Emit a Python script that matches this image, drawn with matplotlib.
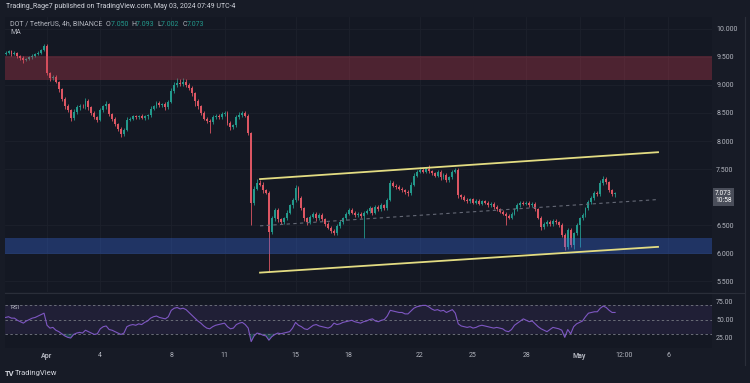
import matplotlib.pyplot as plt
import matplotlib.transforms as mtransforms
import numpy as np

# Datos (DOT/USDT, velas de 4h)
# ========================================
first_open = 9.55

# Cierres, una línea por día (Mar 29 16:00 ... May 3 00:00)
closes = [
    9.58, 9.60,
    9.55, 9.57, 9.52, 9.48, 9.44, 9.47,
    9.50, 9.52, 9.55, 9.58, 9.62, 9.70,
    9.21, 9.12, 9.14, 9.06, 8.92, 8.75,   # Apr 1
    8.62, 8.55, 8.41, 8.52, 8.60, 8.63,
    8.62, 8.72, 8.60, 8.50, 8.42, 8.38,
    8.55, 8.62, 8.66, 8.48, 8.40, 8.30,   # Apr 4
    8.22, 8.12, 8.20, 8.38, 8.40, 8.44,
    8.42, 8.45, 8.41, 8.44, 8.46, 8.58,
    8.62, 8.68, 8.64, 8.66, 8.60, 8.70,
    8.90, 9.00, 9.04, 9.02, 9.05, 9.00,   # Apr 8
    8.95, 8.85, 8.72, 8.62, 8.50, 8.40,
    8.36, 8.34, 8.42, 8.45, 8.43, 8.48,
    8.50, 8.32, 8.25, 8.28, 8.42, 8.46,   # Apr 11
    8.50, 8.45, 8.14, 6.89, 7.15, 7.25,
    7.22, 7.12, 7.08, 6.38, 6.62, 6.77,
    6.60, 6.55, 6.62, 6.72, 6.85, 6.95,
    7.16, 6.98, 6.80, 6.62, 6.55, 6.65,   # Apr 15
    6.70, 6.62, 6.68, 6.60, 6.52, 6.45,
    6.40, 6.36, 6.48, 6.55, 6.62, 6.70,
    6.77, 6.72, 6.68, 6.70, 6.66, 6.72,   # Apr 18
    6.75, 6.80, 6.72, 6.82, 6.78, 6.85,
    6.80, 6.95, 7.25, 7.20, 7.18, 7.15,
    7.12, 7.09, 7.07, 7.22, 7.38, 7.45,
    7.48, 7.45, 7.50, 7.46, 7.42, 7.38,   # Apr 22
    7.45, 7.35, 7.40, 7.30, 7.35, 7.45,
    7.48, 7.03, 7.00, 6.95, 6.92, 6.96,
    6.90, 6.93, 6.88, 6.92, 6.90, 6.86,   # Apr 25
    6.88, 6.82, 6.78, 6.74, 6.70, 6.66,
    6.63, 6.70, 6.78, 6.86, 6.90, 6.88,
    6.90, 6.86, 6.88, 6.78, 6.63, 6.46,   # Apr 28
    6.52, 6.56, 6.52, 6.58, 6.55, 6.50,
    6.32, 6.10, 6.41, 6.14, 6.35, 6.50,
    6.62, 6.68, 6.80, 6.91, 6.98, 7.07,   # May 1
    7.05, 7.25, 7.32, 7.26, 7.12, 7.05,
    7.073,
]

# Mechas superior e inferior (centésimas)
wick_up = [
    3, 2,
    2, 3, 2, 2, 3, 2,
    2, 3, 2, 3, 3, 4,
    3, 3, 4, 3, 2, 3,
    3, 4, 2, 5, 4, 3,
    3, 5, 3, 2, 3, 2,
    4, 3, 6, 2, 2, 3,
    2, 3, 3, 4, 3, 2,
    3, 2, 4, 3, 3, 4,
    3, 4, 3, 2, 3, 4,
    4, 6, 8, 7, 7, 5,
    3, 4, 3, 3, 2, 3,
    3, 3, 5, 3, 3, 4,
    4, 3, 3, 3, 4, 5,
    4, 3, 3, 2, 5, 7,
    5, 4, 3, 2, 4, 4,
    4, 3, 3, 4, 3, 4,
    5, 4, 3, 3, 3, 3,
    3, 3, 3, 3, 3, 3,
    3, 3, 3, 4, 3, 3,
    4, 3, 3, 3, 3, 3,
    3, 4, 3, 4, 3, 4,
    3, 4, 5, 3, 3, 3,
    3, 3, 3, 4, 4, 4,
    5, 3, 4, 7, 3, 3,
    3, 3, 3, 3, 3, 3,
    4, 3, 3, 3, 3, 3,
    3, 3, 3, 3, 3, 3,
    3, 3, 3, 3, 3, 3,
    3, 3, 3, 4, 3, 3,
    3, 3, 3, 3, 3, 3,
    4, 3, 3, 3, 3, 3,
    3, 3, 3, 3, 3, 3,
    3, 3, 3, 3, 3, 3,
    3, 5, 6, 3, 3, 3,
    2,
]
wick_dn = [
    2, 3,
    3, 2, 3, 3, 4, 2,
    2, 3, 2, 2, 3, 2,
    4, 5, 3, 3, 4, 3,
    4, 3, 6, 3, 3, 4,
    3, 4, 4, 3, 3, 4,
    3, 3, 4, 3, 4, 3,
    4, 5, 3, 3, 3, 3,
    3, 3, 2, 3, 4, 3,
    3, 3, 3, 4, 5, 3,
    3, 4, 3, 4, 3, 3,
    4, 5, 10, 4, 4, 3,
    4, 20, 3, 3, 3, 3,
    3, 3, 5, 3, 3, 3,
    3, 3, 4, 39, 3, 3,
    3, 4, 3, 72, 4, 5,
    5, 4, 3, 3, 3, 4,
    4, 3, 4, 4, 5, 3,
    3, 4, 3, 3, 4, 3,
    4, 3, 3, 3, 3, 3,
    3, 3, 4, 3, 3, 39,
    3, 3, 4, 3, 3, 3,
    3, 3, 3, 3, 4, 3,
    3, 3, 5, 3, 3, 3,
    3, 3, 3, 3, 3, 3,
    3, 4, 3, 4, 3, 3,
    3, 4, 3, 3, 3, 3,
    3, 3, 3, 3, 3, 3,
    3, 3, 3, 3, 3, 16,
    3, 3, 3, 3, 3, 3,
    3, 3, 3, 3, 3, 5,
    3, 3, 3, 3, 3, 3,
    3, 5, 3, 3, 6, 3,
    40, 3, 3, 3, 3, 3,
    3, 3, 3, 3, 3, 3,
    5,
]

# RSI (14) por vela
rsi = [
    53, 54,
    52, 52, 49, 47, 45, 48,
    50, 52, 53, 55, 57, 59,
    42, 38, 39, 35, 33, 30,
    27, 25, 24, 29, 31, 32,
    31, 35, 33, 31, 29, 30,
    37, 40, 41, 36, 35, 33,
    31, 29, 31, 40, 42, 43,
    42, 44, 43, 46, 48, 52,
    54, 55, 53, 52, 51, 54,
    63, 66, 67, 65, 66, 64,
    60, 56, 52, 48, 45, 41,
    38, 37, 40, 42, 43, 44,
    45, 40, 37, 38, 43, 45,
    46, 43, 38, 19, 27, 31,
    30, 28, 27, 21, 26, 29,
    31, 30, 31, 32, 33, 38,
    46, 42, 40, 37, 36, 39,
    42, 43, 41, 40, 39, 38,
    40, 45, 43, 44, 46, 47,
    48, 49, 47, 46, 45, 47,
    48, 50, 51, 48, 47, 49,
    50, 55, 63, 62, 61, 60,
    60, 58, 58, 62, 66, 68,
    69, 70, 70, 68, 65, 63,
    64, 62, 63, 60, 62, 64,
    59, 44, 41, 40, 39, 40,
    38, 39, 41, 42, 41, 40,
    39, 38, 39, 38, 37, 34,
    33, 36, 42, 45, 48, 51,
    49, 47, 48, 44, 40, 37,
    35, 33, 36, 39, 38, 37,
    35, 25, 36, 30, 40, 44,
    46, 48, 54, 59, 60, 61,
    61, 66, 69, 67, 63, 60,
    60,
]

# Zonas y canal (días desde Apr 1, precio)
supply_zone = [9.09, 9.52]
demand_zone = [5.98, 6.27]
channel_days = [12.0, 34.42]
channel_upper = [7.32, 7.80]
channel_lower = [5.65, 6.11]

tick_days = [0, 3, 7, 10, 14, 17, 21, 24, 27, 30, 32.5, 35]
tick_labels = ['Apr', '4', '8', '11', '15', '18', '22', '25', '28', 'May', '12:00', '6']
price_ticks = [5.5, 6.0, 6.5, 7.5, 8.0, 8.5, 9.0, 9.5, 10.0]
rsi_ticks = [25, 50, 75]

# Estilo
# ========================================
bg = '#141823'
text_c = '#b2b5be'
up_c = '#23998c'
down_c = '#dc5663'
plt.rcParams['font.family'] = ['Roboto', 'DejaVu Sans']

W, H = 750, 383
fig = plt.figure(figsize=(W / 100, H / 100), dpi=100, facecolor='#171b26')


def pane(x0, y0, x1, y1):
    return fig.add_axes([x0 / W, 1 - y1 / H, (x1 - x0) / W, (y1 - y0) / H], facecolor=bg)


ax = pane(5, 17, 712, 292)
ax_rsi = pane(5, 294, 712, 348)

# Velas
closes = np.array(closes)
opens = np.concatenate([[first_open], closes[:-1]])
highs = np.maximum(opens, closes) + np.array(wick_up) / 100
lows = np.minimum(opens, closes) - np.array(wick_dn) / 100
t = -14 / 6 + np.arange(len(closes)) / 6
colors = np.where(closes >= opens, up_c, down_c)

ax.vlines(t, lows, highs, colors=colors, linewidth=0.6, zorder=2)
ax.bar(t, np.maximum(np.abs(closes - opens), 0.008), bottom=np.minimum(opens, closes),
       width=0.65 / 6, color=colors, linewidth=0, zorder=3)

# Zonas
ax.axhspan(*supply_zone, color='#c83c50', alpha=0.32, linewidth=0, zorder=4)
ax.axhspan(*demand_zone, color='#3a70f0', alpha=0.32, linewidth=0, zorder=4)

# Canal
ax.plot(channel_days, channel_upper, color='#e3dc82', linewidth=1.3, zorder=5)
ax.plot(channel_days, channel_lower, color='#e3dc82', linewidth=1.3, zorder=5)
ax.plot(channel_days, (np.array(channel_upper) + np.array(channel_lower)) / 2,
        color='#646875', linewidth=0.8, linestyle=(0, (3, 3)), zorder=5)

# RSI
rsi = np.array(rsi, dtype=float)
ax_rsi.axhspan(30, 70, color='#7e57c2', alpha=0.12, linewidth=0)
for lvl in (70, 50, 30):
    ax_rsi.axhline(lvl, color='#6a6d78', linewidth=0.7, linestyle=(0, (2.5, 2.5)))
ax_rsi.fill_between(t, rsi, 30, where=rsi < 30, color=up_c, alpha=0.35, linewidth=0,
                    interpolate=True)
ax_rsi.plot(t, rsi, color='#7e57c2', linewidth=0.8)
ax_rsi.text(0.008, 0.72, 'RSI', transform=ax_rsi.transAxes, color=text_c, fontsize=4.5)

# Ejes
for a in (ax, ax_rsi):
    a.set_xlim(-2.366, 37.46)
    a.set_xticks(tick_days)
    a.grid(True, color='#1d212c', linewidth=0.6)
    a.set_axisbelow(True)
    a.yaxis.tick_right()
    a.tick_params(length=0, colors=text_c, labelsize=5, pad=3)
    for s in a.spines.values():
        s.set_visible(False)

ax.set_ylim(5.304, 10.214)
ax.set_yticks(price_ticks)
ax.set_yticklabels(['%.3f' % p for p in price_ticks])
ax.tick_params(axis='x', labelbottom=False)

ax_rsi.set_ylim(10, 86)
ax_rsi.set_yticks(rsi_ticks)
ax_rsi.set_yticklabels(['%.2f' % r for r in rsi_ticks])
ax_rsi.grid(False)
ax_rsi.set_xticklabels(tick_labels)
for lbl in ax_rsi.get_xticklabels():
    if lbl.get_text() in ('Apr', 'May'):
        lbl.set_fontweight('bold')

# Etiqueta del precio actual
trans = mtransforms.blended_transform_factory(ax.transAxes, ax.transData)
ax.text(1.0045, closes[-1] - 0.07, '%.3f\n10:58' % closes[-1], transform=trans,
        color='white', fontsize=4.8, va='center', ha='left', linespacing=1.0,
        bbox=dict(boxstyle='square,pad=0.35', facecolor='#4a4e5a', edgecolor='none'))

# Separadores
fig.add_artist(plt.Line2D([5 / W, 745 / W], [1 - 293 / H] * 2, color='#2a2e39', linewidth=0.8))
fig.add_artist(plt.Line2D([745 / W] * 2, [1 - 17 / H, 1 - 365 / H], color='#2a2e39', linewidth=0.8))

# Textos de cabecera y pie
fig.text(6 / W, 1 - 7 / H, 'Trading_Rage7 published on TradingView.com, May 03, 2024 07:49 UTC-4',
         color='#d1d4dc', fontsize=5, va='center')
x = 10
for part, col in [('DOT / TetherUS, 4h, BINANCE  ', text_c), ('O', text_c), ('7.050  ', up_c),
                  ('H', text_c), ('7.093  ', up_c), ('L', text_c), ('7.002  ', up_c),
                  ('C', text_c), ('7.073', up_c)]:
    tx = fig.text(x / W, 1 - 24 / H, part, color=col, fontsize=5, va='center')
    fig.canvas.draw()
    x += tx.get_window_extent().width
fig.text(10 / W, 1 - 32 / H, 'MA', color=text_c, fontsize=5, va='center')

fig.text(5 / W, 1 - 373 / H, 'TV', color='#d1d4dc', fontsize=5.5, fontweight='bold', va='center')
fig.text(15 / W, 1 - 373 / H, 'TradingView', color='#d1d4dc', fontsize=5.5, va='center')

fig.savefig('out.png', dpi=100, facecolor=fig.get_facecolor())
